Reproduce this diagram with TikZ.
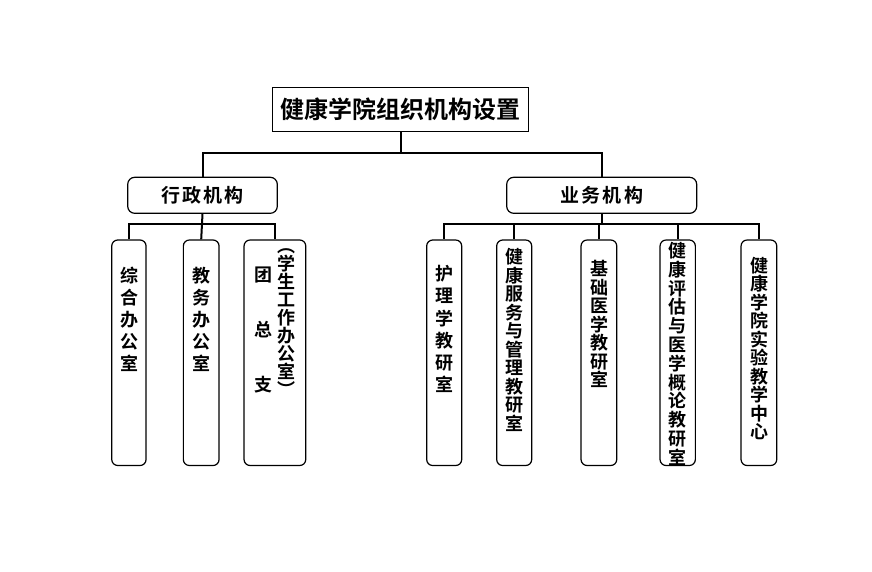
\documentclass[tikz,border=0pt]{standalone}
\usepackage{fontspec}
\setmainfont{Noto Sans CJK SC}[BoldFont=* Bold]
\usepackage{tikz}
\usetikzlibrary{positioning}
\tikzset{
  titlebox/.style={draw, line width=1pt, minimum width=255.6pt, minimum height=43.7pt, inner sep=0pt,
                   font=\bfseries\fontsize{24}{28}\selectfont},
  groupbox/.style={draw, rounded corners=7pt, line width=1.2pt, minimum height=36pt, inner sep=0pt,
                   font=\bfseries\fontsize{19}{22}\selectfont\addfontfeature{LetterSpace=12}},
  unitbox/.style={draw, rounded corners=6pt, line width=1.2pt, minimum height=225.5pt, inner sep=0pt},
  unittext/.style={anchor=north, inner sep=0pt, align=center},
  wide/.style={font=\bfseries\fontsize{18}{22}\selectfont},
  tight/.style={font=\bfseries\fontsize{18}{18.5}\selectfont},
  conn/.style={line width=2pt},
}

\begin{document}
\begin{tikzpicture}[x=1pt, y=-1pt]
  \useasboundingbox (0,0) rectangle (872,571);

  % top level
  \node[titlebox] (college) at (400.5,109.2) {健康学院组织机构设置};
  \node[groupbox, minimum width=149.6pt] (admin) at (202.5,195.3) {行政机构};
  \node[groupbox, minimum width=190pt] (biz) at (601.7,195.3) {业务机构};

  % administrative units
  \node[unitbox, minimum width=34.3pt] (zonghe) at (128.9,352.75) {};
  \node[unitbox, minimum width=35.7pt] (jiaowu) at (201.2,352.75) {};
  \node[unitbox, minimum width=61.7pt] (tuanzong) at (274.9,352.75) {};
  \node[unittext, wide] (zonghetxt) at (129.3,267) {综\\合\\办\\公\\室};
  \node[unittext, wide] (jiaowutxt) at (201.5,267) {教\\务\\办\\公\\室};
  \node[unittext, font=\bfseries\fontsize{18}{55}\selectfont] (tuanzongtxt) at (263.3,267) {团\\总\\支};
  \node[unittext, font=\bfseries\fontsize{18}{18}\selectfont] (xuegongtxt) at (286.7,248) {︵\\学\\生\\工\\作\\办\\公\\室\\︶};

  % teaching units
  \node[unitbox, minimum width=35pt] (huli) at (444.2,352.75) {};
  \node[unitbox, minimum width=35pt] (fuwu) at (514.2,352.75) {};
  \node[unitbox, minimum width=35.7pt] (jichu) at (598.9,352.75) {};
  \node[unitbox, minimum width=35.3pt] (pinggu) at (677.7,352.75) {};
  \node[unitbox, minimum width=35.7pt] (shiyan) at (758.9,352.75) {};
  \node[unittext, font=\bfseries\fontsize{18}{22.3}\selectfont] (hulitxt) at (444.2,265) {护\\理\\学\\教\\研\\室};
  \node[unittext, tight] (fuwutxt) at (514.3,248.5) {健\\康\\服\\务\\与\\管\\理\\教\\研\\室};
  \node[unittext, tight] (jichutxt) at (599,260) {基\\础\\医\\学\\教\\研\\室};
  \node[unittext, font=\bfseries\fontsize{18}{18.8}\selectfont] (pinggutxt) at (677.7,242) {健\\康\\评\\估\\与\\医\\学\\概\\论\\教\\研\\室};
  \node[unittext, tight] (shiyantxt) at (759,257) {健\\康\\学\\院\\实\\验\\教\\学\\中\\心};

  % connectors
  \coordinate (bartop) at (0,153.3);
  \coordinate (barlow) at (0,224.3);
  \draw[conn] (college.south) -- (college.south |- bartop) -| (admin.north);
  \draw[conn] (college.south |- bartop) -| (biz.north);

  \draw[conn] (admin.south) -- (jiaowu.north);
  \draw[conn] (admin.south |- barlow) -| (zonghe.north);
  \draw[conn] (admin.south |- barlow) -| (tuanzong.north);

  \draw[conn] (biz.south) -- (biz.south |- barlow) -| (huli.north);
  \draw[conn] (biz.south |- barlow) -| (fuwu.north);
  \draw[conn] (biz.south |- barlow) -| (jichu.north);
  \draw[conn] (biz.south |- barlow) -| (pinggu.north);
  \draw[conn] (biz.south |- barlow) -| (shiyan.north);
\end{tikzpicture}
\end{document}
